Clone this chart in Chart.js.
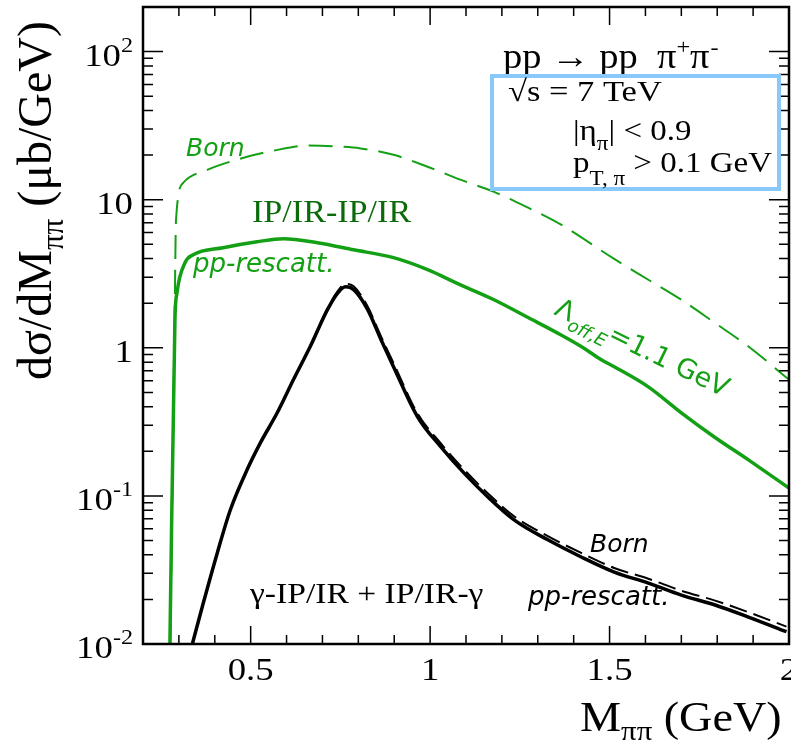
<!DOCTYPE html>
<html>
<head>
<meta charset="utf-8">
<script src="https://cdn.jsdelivr.net/npm/chart.js@4.4.1/dist/chart.umd.min.js"></script>
<style>
  body { margin: 0; background: #fff; }
  #wrap { width: 791px; height: 752px; }
</style>
</head>
<body>
<div id="wrap"><canvas id="chart" width="791" height="752"></canvas></div>
<script>
// Werte (M in GeV, dSigma/dM in mub/GeV)
var gruenBornM = [0.276, 0.288, 0.292, 0.312, 0.379, 0.471, 0.563, 0.658, 0.750, 0.806, 0.898, 0.993, 1.086, 1.178, 1.273, 1.365, 1.513, 1.608, 1.700, 1.792, 1.887, 2.000];
var gruenBornW = [0.01, 1.5, 7.3, 13.0, 15.9, 18.9, 21.4, 23.2, 22.8, 22.2, 20.1, 16.7, 13.6, 11.3, 8.83, 6.78, 3.98, 2.88, 2.11, 1.48, 1.02, 0.61];

var gruenRescM = [0.275, 0.289, 0.295, 0.317, 0.340, 0.423, 0.518, 0.591, 0.686, 0.787, 0.898, 0.993, 1.077, 1.178, 1.273, 1.365, 1.421, 1.477, 1.513, 1.608, 1.700, 1.792, 1.887, 2.000];
var gruenRescW = [0.01, 1.55, 2.37, 3.75, 4.25, 4.74, 5.2, 5.45, 5.12, 4.59, 4.06, 3.37, 2.71, 2.11, 1.60, 1.22, 1.02, 0.83, 0.745, 0.545, 0.364, 0.25, 0.175, 0.113];

var schwarzRescM = [0.335, 0.368, 0.407, 0.443, 0.490, 0.527, 0.574, 0.619, 0.666, 0.714, 0.743, 0.764, 0.787, 0.826, 0.862, 0.898, 0.965, 1.030, 1.094, 1.161, 1.234, 1.328, 1.421, 1.513, 1.608, 1.700, 1.792, 1.887, 1.993];
var schwarzRescW = [0.0095, 0.0189, 0.0412, 0.080, 0.150, 0.228, 0.364, 0.608, 1.02, 1.81, 2.35, 2.58, 2.47, 1.81, 1.15, 0.745, 0.342, 0.214, 0.143, 0.0984, 0.0689, 0.0505, 0.0387, 0.0306, 0.0258, 0.0214, 0.0184, 0.0152, 0.0121];

var schwarzBornM = [0.335, 0.368, 0.407, 0.443, 0.490, 0.527, 0.574, 0.619, 0.666, 0.714, 0.743, 0.764, 0.787, 0.826, 0.862, 0.898, 0.965, 1.030, 1.094, 1.161, 1.234, 1.328, 1.421, 1.513, 1.608, 1.700, 1.792, 1.887, 1.993];
var schwarzBornW = [0.0095, 0.0189, 0.0412, 0.080, 0.150, 0.228, 0.364, 0.610, 1.03, 1.84, 2.42, 2.70, 2.60, 1.90, 1.21, 0.79, 0.36, 0.226, 0.151, 0.104, 0.0728, 0.0535, 0.0412, 0.0326, 0.0276, 0.0229, 0.0197, 0.0164, 0.0131];

// Achsen
var yTickWerte = [0.01, 0.1, 1, 10, 100];
var yTickBasis = ['10', '10', '1', '10', '10'];
var yTickExp = ['-2', '-1', '', '', '2'];
var xTickWerte = [0.5, 1, 1.5, 2];
var xTickText = ['0.5', '1', '1.5', '2'];

var GRUEN = '#14a014';
var DUNKELGRUEN = '#0b6b0b';
var SERIF = '"Liberation Serif", "Times New Roman", serif';
var SANS = '"DejaVu Sans", sans-serif';

function punkte(m, w) {
    return m.map(function(x, i) { return { x: x, y: w[i] }; });
}

function txt(ctx, s, x, y, font, farbe, sx) {
    sx = sx || 1;
    ctx.save();
    ctx.font = font;
    ctx.fillStyle = farbe;
    ctx.textBaseline = 'alphabetic';
    ctx.textAlign = 'left';
    ctx.translate(x, y);
    ctx.scale(sx, 1);
    ctx.fillText(s, 0, 0);
    var w = ctx.measureText(s).width * sx;
    ctx.restore();
    return x + w;
}

function breite(ctx, s, font, sx) {
    ctx.save();
    ctx.font = font;
    var w = ctx.measureText(s).width * (sx || 1);
    ctx.restore();
    return w;
}

var rahmenPlugin = {
    id: 'rahmen',
    afterDraw: function(chart) {
        var ctx = chart.ctx;
        var a = chart.chartArea;
        var xs = chart.scales.x, ys = chart.scales.y;
        ctx.save();
        ctx.strokeStyle = '#000';
        ctx.lineWidth = 2.5;
        ctx.strokeRect(a.left, a.top, a.right - a.left, a.bottom - a.top);

        // Striche x
        ctx.lineWidth = 1.5;
        ctx.beginPath();
        for (var i = 2; i <= 20; i++) {
            var v = i / 10;
            var px = xs.getPixelForValue(v);
            var len = (i % 5 === 0) ? 18 : 9;
            ctx.moveTo(px, a.bottom); ctx.lineTo(px, a.bottom - len);
            ctx.moveTo(px, a.top); ctx.lineTo(px, a.top + len);
        }
        // Striche y
        for (var e = -2; e <= 2; e++) {
            for (var k = 1; k <= 9; k++) {
                var val = k * Math.pow(10, e);
                if (val > 200) continue;
                var py = ys.getPixelForValue(val);
                var l = (k === 1) ? 20 : 10;
                ctx.moveTo(a.left, py); ctx.lineTo(a.left + l, py);
                ctx.moveTo(a.right, py); ctx.lineTo(a.right - l, py);
            }
        }
        ctx.stroke();
        ctx.restore();

        // Tick-Beschriftung y
        var fT = '32px ' + SERIF, fS = '21px ' + SERIF, sx = 1.15;
        yTickWerte.forEach(function(v, i) {
            var py = ys.getPixelForValue(v) + 14;
            var w = breite(ctx, yTickBasis[i], fT, sx) + (yTickExp[i] ? breite(ctx, yTickExp[i], fS, sx) : 0);
            var x0 = 133 - w;
            var x1 = txt(ctx, yTickBasis[i], x0, py, fT, '#000', sx);
            if (yTickExp[i]) txt(ctx, yTickExp[i], x1, py - 14, fS, '#000', sx);
        });
        // Tick-Beschriftung x
        xTickWerte.forEach(function(v, i) {
            var px = xs.getPixelForValue(v);
            var w = breite(ctx, xTickText[i], fT, sx);
            txt(ctx, xTickText[i], px - w / 2, 680, fT, '#000', sx);
        });

        // Achsentitel x
        var x = txt(ctx, 'M', 580, 731, '42px ' + SERIF, '#000', 1.1);
        x = txt(ctx, 'ππ', x, 740, '28px ' + SERIF, '#000', 1.1);
        txt(ctx, ' (GeV)', x, 731, '42px ' + SERIF, '#000', 1.1);

        // Achsentitel y
        ctx.save();
        ctx.translate(51, 380);
        ctx.rotate(-Math.PI / 2);
        var yx = txt(ctx, 'dσ/dM', 0, 0, '48px ' + SERIF, '#000');
        yx = txt(ctx, 'ππ', yx, 12, '31px ' + SERIF, '#000');
        txt(ctx, ' (μb/GeV)', yx, 0, '48px ' + SERIF, '#000');
        ctx.restore();

        // Prozess und Kasten
        var fP = '35px ' + SERIF;
        x = txt(ctx, 'pp → pp  π', 503, 68, fP, '#000', 1.1);
        x = txt(ctx, '+', x, 54, '22px ' + SERIF, '#000', 1.1);
        x = txt(ctx, 'π', x, 68, fP, '#000', 1.1);
        txt(ctx, '-', x + 1, 54, '22px ' + SERIF, '#000', 1.1);

        ctx.save();
        ctx.strokeStyle = '#88c9f9';
        ctx.lineWidth = 4;
        ctx.strokeRect(492, 76, 287, 113);
        ctx.restore();

        var fK = '30px ' + SERIF, fKs = '21px ' + SERIF;
        txt(ctx, '√s = 7 TeV', 508, 101, fK, '#000', 1.15);
        x = txt(ctx, '|η', 573, 140, fK, '#000', 1.1);
        x = txt(ctx, 'π', x, 150, fKs, '#000', 1.1);
        txt(ctx, '| < 0.9', x, 140, fK, '#000', 1.1);
        x = txt(ctx, 'p', 573, 172, fK, '#000', 1.1);
        x = txt(ctx, 'T, π', x, 185, fKs, '#000', 1.1);
        txt(ctx, ' > 0.1 GeV', x, 172, fK, '#000', 1.1);

        // Kurvenbeschriftungen
        txt(ctx, 'Born', 186, 156, 'italic 25px ' + SANS, GRUEN);
        txt(ctx, 'IP/IR-IP/IR', 252, 222, '31px ' + SERIF, DUNKELGRUEN, 1.1);
        txt(ctx, 'pp-rescatt.', 193, 272, 'italic 26px ' + SANS, GRUEN);
        txt(ctx, 'Born', 590, 552, 'italic 25px ' + SANS, '#000');
        txt(ctx, 'pp-rescatt.', 528, 605, 'italic 26px ' + SANS, '#000');
        txt(ctx, 'γ-IP/IR + IP/IR-γ', 250, 603, '30px ' + SERIF, '#000', 1.12);

        ctx.save();
        ctx.translate(553, 314);
        ctx.rotate(26 * Math.PI / 180);
        var lx = txt(ctx, 'Λ', 0, 0, '27px ' + SANS, GRUEN);
        lx = txt(ctx, 'off,E', lx, 8, 'italic 18px ' + SANS, GRUEN);
        txt(ctx, '=1.1 GeV', lx, 0, '27px ' + SANS, GRUEN);
        ctx.restore();
    }
};

var ctx = document.getElementById('chart').getContext('2d');
var chart = new Chart(ctx, {
    type: 'line',
    data: {
        datasets: [
            { label: 'Born IP/IR', data: punkte(gruenBornM, gruenBornW), borderColor: GRUEN, borderWidth: 2, borderDash: [24, 11] },
            { label: 'pp-rescatt. IP/IR', data: punkte(gruenRescM, gruenRescW), borderColor: GRUEN, borderWidth: 3.5 },
            { label: 'Born gamma', data: punkte(schwarzBornM, schwarzBornW), borderColor: '#000', borderWidth: 2, borderDash: [18, 7] },
            { label: 'pp-rescatt. gamma', data: punkte(schwarzRescM, schwarzRescW), borderColor: '#000', borderWidth: 3.5 }
        ]
    },
    options: {
        responsive: false,
        animation: false,
        elements: { point: { radius: 0 }, line: { cubicInterpolationMode: 'monotone', fill: false } },
        layout: { padding: { left: 143, right: 2, top: 7, bottom: 108 } },
        plugins: { legend: { display: false }, tooltip: { enabled: false } },
        scales: {
            x: { type: 'linear', min: 0.2, max: 2.0, display: false },
            y: { type: 'logarithmic', min: 0.01, max: 200, display: false }
        }
    },
    plugins: [rahmenPlugin]
});
</script>
</body>
</html>
